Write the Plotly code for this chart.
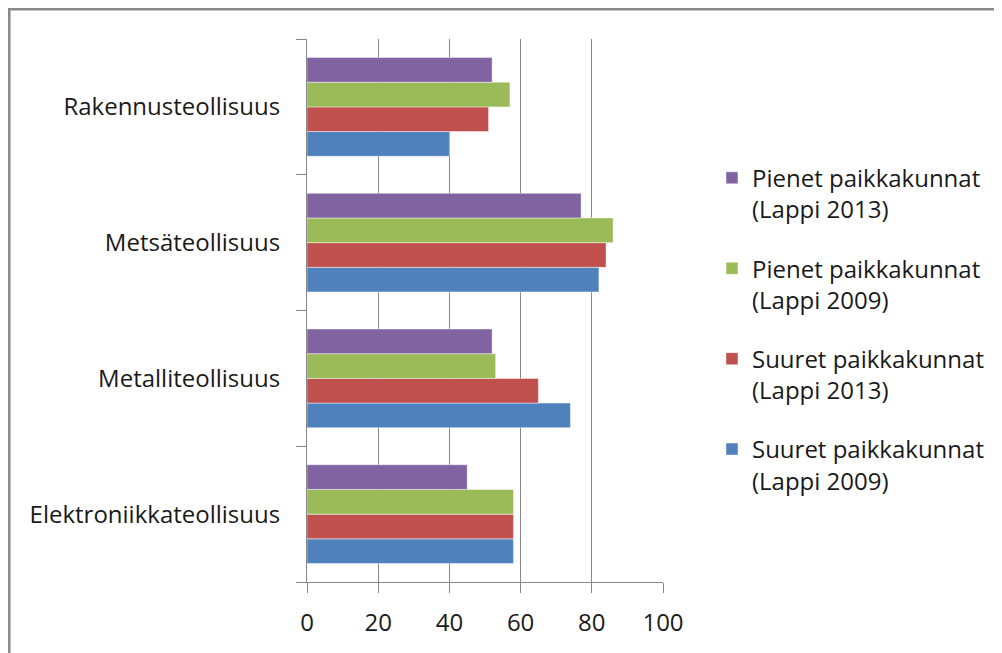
import plotly.graph_objects as go

categories = ["Elektroniikkateollisuus", "Metalliteollisuus", "Metsäteollisuus", "Rakennusteollisuus"]
series_names = [
    "Suuret paikkakunnat<br>(Lappi 2009)",
    "Suuret paikkakunnat<br>(Lappi 2013)",
    "Pienet paikkakunnat<br>(Lappi 2009)",
    "Pienet paikkakunnat<br>(Lappi 2013)",
]
suuret_2009 = [58, 74, 82, 40]
suuret_2013 = [58, 65, 84, 51]
pienet_2009 = [58, 53, 86, 57]
pienet_2013 = [45, 52, 77, 52]
series_values = [suuret_2009, suuret_2013, pienet_2009, pienet_2013]
colors = ["#4F81BD", "#C0504D", "#9BBB59", "#8064A2"]
x_ticks = [0, 20, 40, 60, 80, 100]

FONT = "Open Sans"
TEXT = "#1a1a1a"
GRID = "#878787"

fig = go.Figure()
for i, (name, vals, col) in enumerate(zip(series_names, series_values, colors)):
    fig.add_trace(go.Bar(
        y=categories, x=vals, name=name, orientation="h",
        marker=dict(color=col, line=dict(color="rgba(255,255,255,0.45)", width=1)),
        legendgroup=f"g{i}", legendrank=len(colors) - i,
    ))

fig.update_layout(
    width=994, height=645,
    margin=dict(l=299, r=339, t=31, b=71),
    paper_bgcolor="white", plot_bgcolor="white",
    barmode="group", bargap=0.273, bargroupgap=0,
    font=dict(family=FONT, size=24, color=TEXT),
    legend=dict(
        x=1.1376, xanchor="left", y=0.785, yanchor="top",
        traceorder="grouped", tracegroupgap=25,
        font=dict(family=FONT, size=24, color=TEXT),
        valign="top", bgcolor="rgba(0,0,0,0)",
    ),
    xaxis=dict(
        range=[0, 100], tickvals=x_ticks, ticktext=[str(v) for v in x_ticks],
        showgrid=True, gridcolor=GRID, gridwidth=1,
        showline=True, linecolor=GRID, linewidth=1,
        ticks="outside", ticklen=10, tickcolor=GRID,
        tickfont=dict(family=FONT, size=24, color=TEXT),
        zeroline=False, fixedrange=True, ticklabelstandoff=9,
    ),
    yaxis=dict(
        categoryorder="array", categoryarray=categories,
        showgrid=False, showline=True, linecolor=GRID, linewidth=1,
        ticks="outside", ticklen=10, tickcolor=GRID, tickson="boundaries",
        tickfont=dict(family=FONT, size=24, color=TEXT),
        ticklabelstandoff=21, fixedrange=True,
    ),
    showlegend=True,
)

# outer chart frame
fig.add_shape(type="rect", xref="paper", yref="paper",
              x0=-0.837, x1=2.2, y0=-0.3, y1=1.0552,
              line=dict(color="#8a8a8a", width=3), fillcolor="rgba(0,0,0,0)", layer="above")

fig.write_html("out.html")
